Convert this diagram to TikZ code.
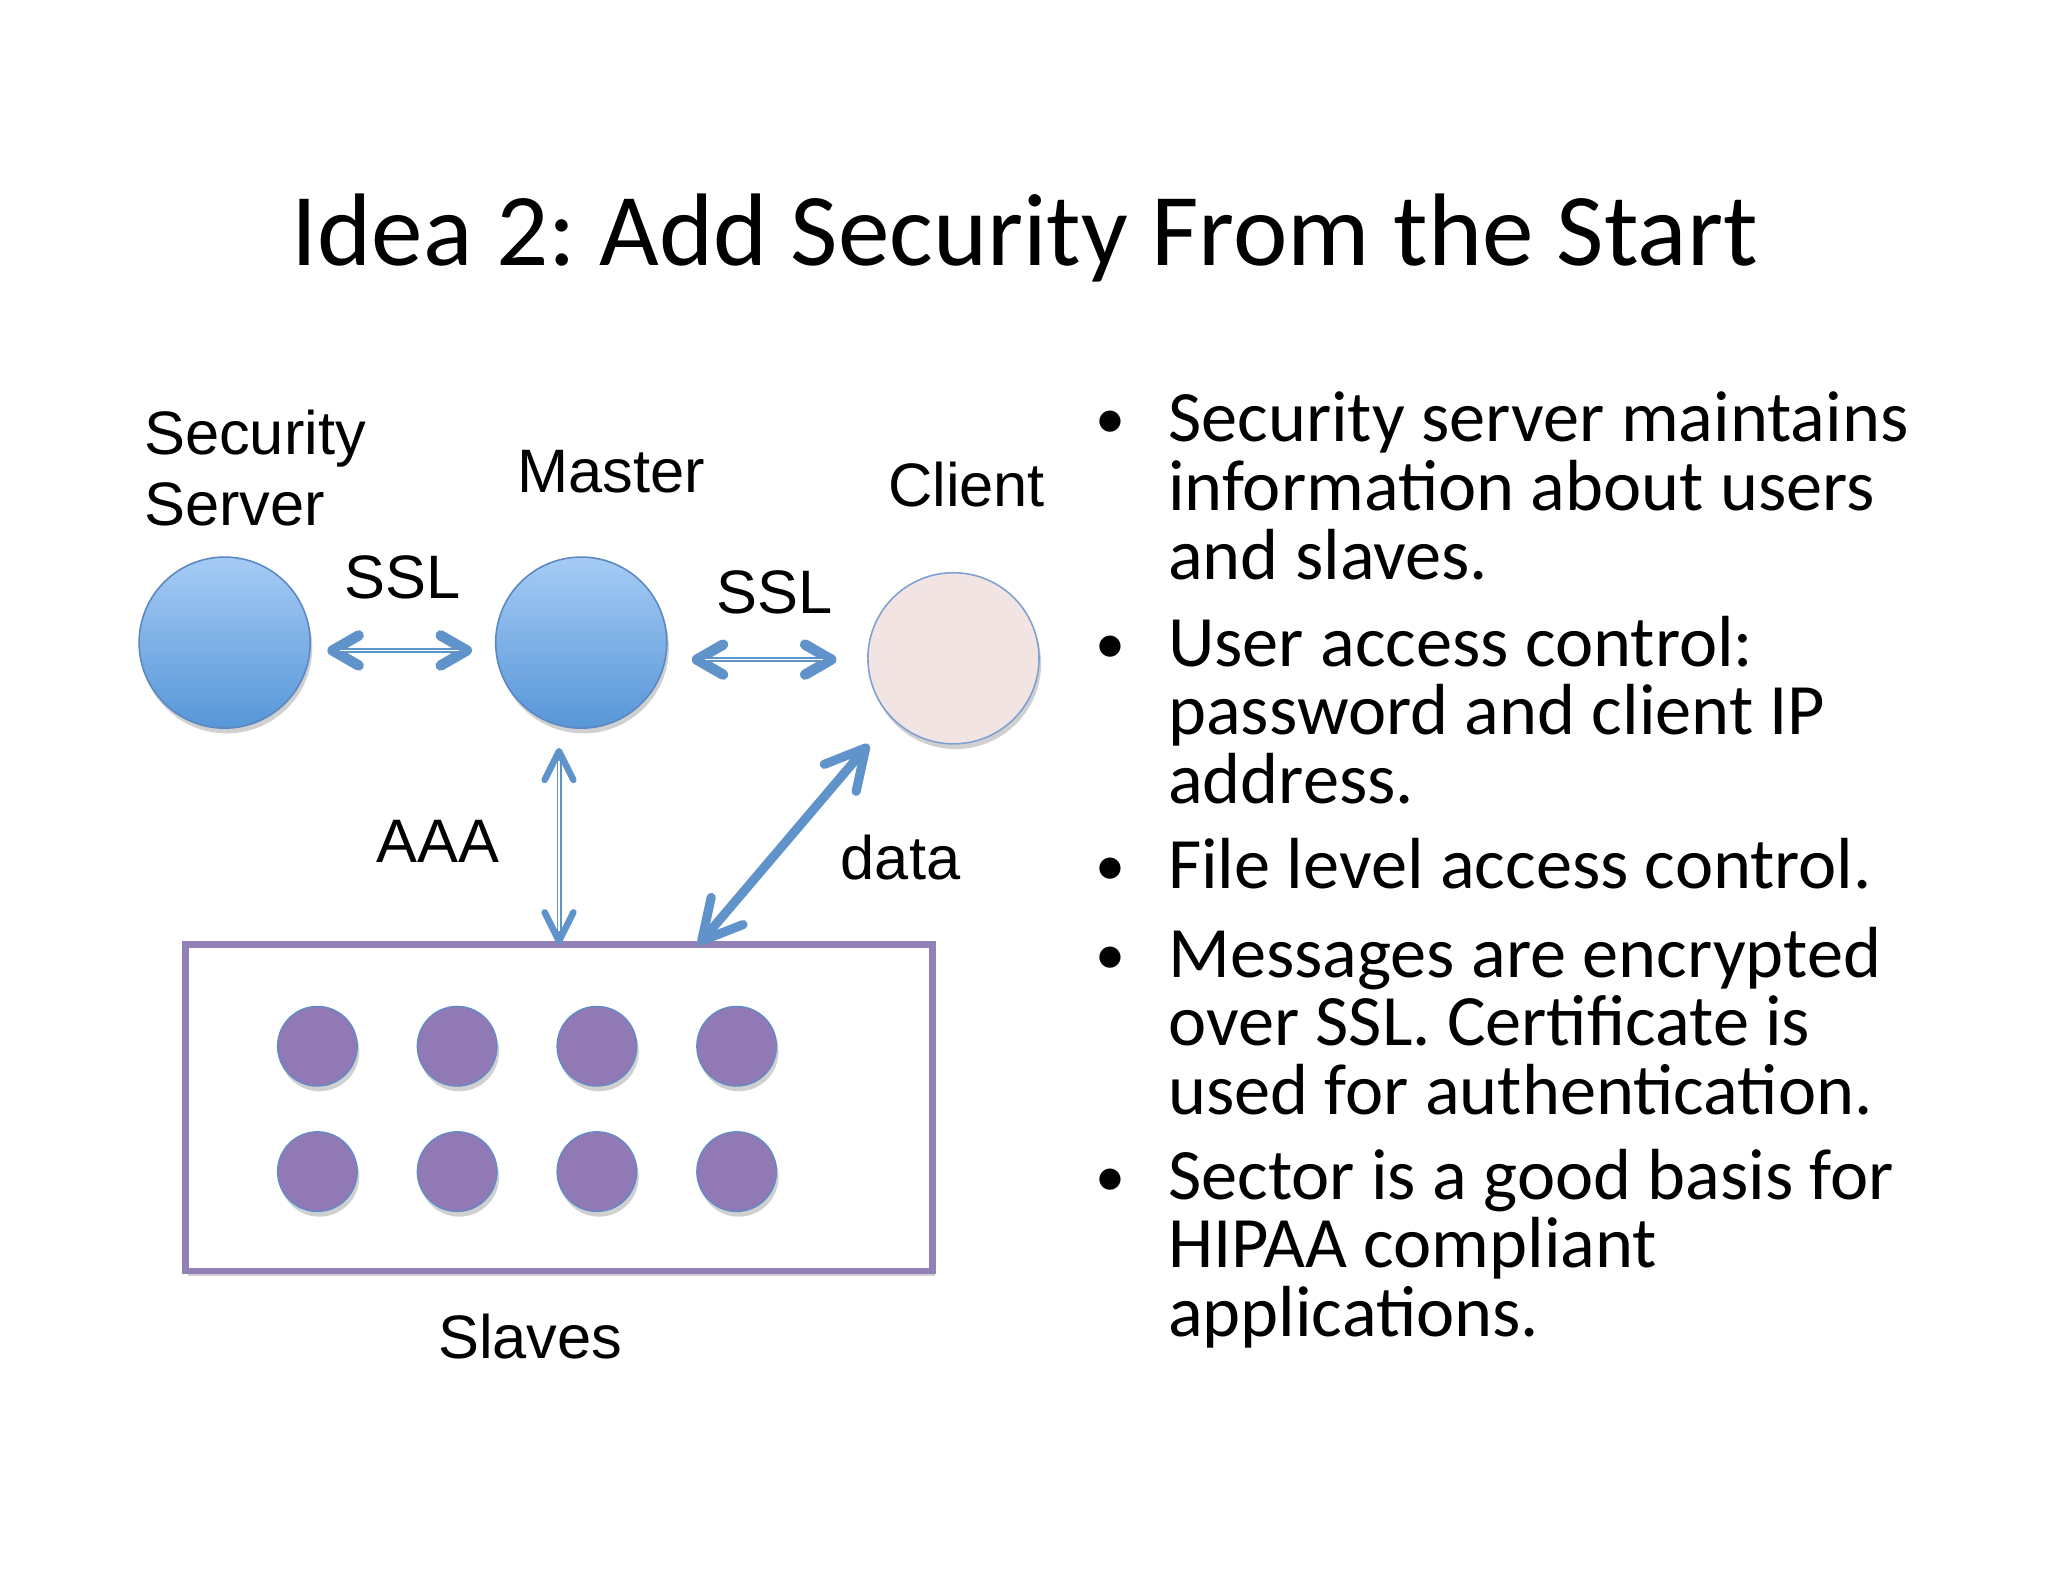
\documentclass[tikz,border=0pt]{standalone}
\usepackage{fontspec}
\setmainfont{Carlito}
\newfontfamily\arialfont{Liberation Sans}
\usetikzlibrary{arrows.meta,shadows,calc}
\frenchspacing
\definecolor{arrowblue}{HTML}{6193CB}
\definecolor{circedge}{HTML}{5B88C0}
\definecolor{circtop}{HTML}{A5CBF5}
\definecolor{circbot}{HTML}{5796D8}
\definecolor{clientfill}{HTML}{F3E4E4}
\definecolor{clientedge}{HTML}{7DA2D2}
\definecolor{slavepurple}{HTML}{9079B4}
\definecolor{slaveedge}{HTML}{5E8CC6}
\definecolor{boxpurple}{HTML}{9280B6}
\begin{document}
\frenchspacing
\begin{tikzpicture}[x=0.5pt,y=-0.5pt,
  diag/.style={font=\arialfont\fontsize{23.5}{27}\selectfont, inner sep=0pt},
  bul/.style={font=\fontsize{27.7}{26.35}\selectfont, inner sep=0pt, align=left, anchor=base west},
  bdot/.style={font=\fontsize{23}{26}\selectfont, inner sep=0pt, anchor=base},
  softshadow/.style={drop shadow={shadow xshift=0.8pt, shadow yshift=-2pt, opacity=0.3, fill=black!60}},
  bluecirc/.style={circle, minimum size=65.5pt, inner sep=0pt, draw=circedge, line width=0.6pt,
     top color=circtop, bottom color=circbot, softshadow},
  clientcirc/.style={circle, minimum size=65.5pt, inner sep=0pt, draw=clientedge, line width=0.6pt,
     fill=clientfill, softshadow},
  slavecirc/.style={circle, minimum size=30.5pt, inner sep=0pt, draw=slaveedge, line width=0.5pt,
     fill=slavepurple, softshadow},
  slavebox/.style={draw=boxpurple, line width=2.5pt, minimum width=286pt, minimum height=125pt,
     inner sep=0pt, outer sep=0pt, fill=white, softshadow},
  sslarrow/.style={draw=arrowblue, line width=1.8pt,
     arrows={Straight Barb[length=10pt,width=11.5pt,line width=4pt,round]-Straight Barb[length=10pt,width=11.5pt,line width=4pt,round]}},
  aaaarrow/.style={draw=arrowblue, line width=1.9pt,
     arrows={Straight Barb[length=11pt,width=11pt,line width=2.5pt,round]-Straight Barb[length=11pt,width=11pt,line width=2.5pt,round]}},
  dataarrow/.style={draw=arrowblue, line width=3.5pt,
     arrows={Straight Barb[length=15pt,width=16pt,line width=3.5pt,round]-Straight Barb[length=15pt,width=16pt,line width=3.5pt,round]}},
  innerline/.style={draw=white, line width=0.55pt}
]
\useasboundingbox[fill=white] (0,0) rectangle (1568,1211.2);

% title
\node[font=\fontsize{39.5}{44}\selectfont, inner sep=0pt, anchor=base] (title) at (784.5,203) {Idea 2: Add Security From the Start};

% main nodes
\node[bluecirc] (ss) at (172,492) {};
\node[bluecirc] (ms) at (445,492) {};
\node[clientcirc] (cl) at (730,504) {};
\node[slavebox] (sl) at (428,848) {};

\foreach \i/\x/\y in {1/243/801,2/350/801,3/457/801,4/564/801,5/243/897,6/350/897,7/457/897,8/564/897}
  \node[slavecirc] (s\i) at (\x,\y) {};

% labels (multi-line nodes anchored on the baseline of their last line)
\node[diag, align=left, anchor=base west] (lss) at (110,402) {Security\\Server};
\node[diag, anchor=base] (lms) at (468,377) {Master};
\node[diag, anchor=base] (lcl) at (740,388) {Client};
\node[diag, anchor=base] (lssl1) at (308,458) {SSL};
\node[diag, anchor=base] (lssl2) at (593,470) {SSL};
\node[diag, anchor=base] (laaa) at (335,660) {AAA};
\node[diag, anchor=base] (ldata) at (689.5,673) {data};
\node[diag, anchor=base] (lsl) at (406,1040) {Slaves};

% connectors
\coordinate (a1s) at ($(ss.east)+(12.5,6)$);
\coordinate (a1e) at ($(ms.west)+(-17.5,6)$);
\draw[sslarrow] (a1s) -- (a1e);
\draw[innerline, shorten <=5pt, shorten >=5pt] (a1s) -- (a1e);

\coordinate (a2s) at ($(ms.east)+(18.5,13)$);
\coordinate (a2e) at ($(cl.west)+(-23.5,1)$);
\draw[sslarrow] (a2s) -- (a2e);
\draw[innerline, shorten <=5pt, shorten >=5pt] (a2s) -- (a2e);

\coordinate (a3s) at ($(ms.south)+(-17,14.5)$);
\draw[aaaarrow] (a3s) -- (sl.north);
\draw[innerline, shorten <=5pt, shorten >=5pt] (a3s) -- (sl.north);

\coordinate (a4s) at ($(sl.north)+(107,0)$);
\coordinate (a4e) at ($(cl.center)+(-65,66)$);
\draw[dataarrow] (a4s) -- (a4e);

% bullets (anchored on the baseline of the last line)
\node[bdot] (d1) at (850,336) {•};
\node[bul] (b1) at (894,443.4) {Security server maintains\\information about users\\and slaves.};
\node[bdot] (d2) at (850,508) {•};
\node[bul] (b2) at (894,615.4) {User access control:\\password and client IP\\address.};
\node[bdot] (d3) at (850,678) {•};
\node[bul] (b3) at (894,680) {File level access control.};
\node[bdot] (d4) at (850,746) {•};
\node[bul] (b4) at (894,853.4) {Messages are encrypted\\over SSL. Certificate is\\used for authentication.};
\node[bdot] (d5) at (850,916) {•};
\node[bul] (b5) at (894,1023.4) {Sector is a good basis for\\HIPAA compliant\\applications.};
\end{tikzpicture}
\end{document}
